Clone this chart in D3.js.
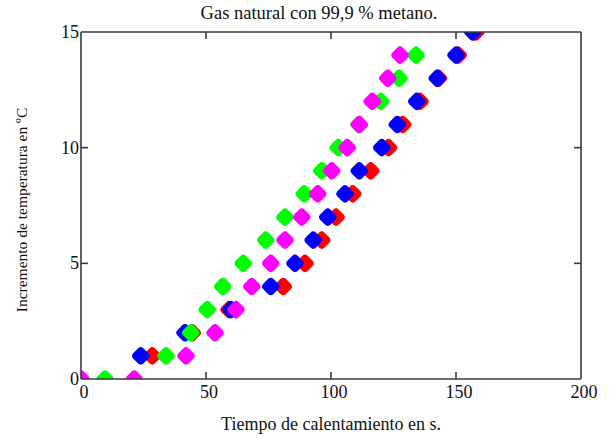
<!DOCTYPE html>
<html lang="es">
<head>
<meta charset="UTF-8">
<title>Gas natural con 99,9 % metano.</title>
<script src="https://d3js.org/d3.v7.min.js"></script>
<style>
  body { margin: 0; background: #fff; }
  text { font-family: "Liberation Serif", "Times New Roman", serif; fill: #111; }
  .frame line { stroke: #3a3a3a; stroke-width: 1.6px; }
</style>
</head>
<body>
<script>
// temperature steps (ºC) and time (s)
var tempRed = [1, 2, 3, 4, 5, 6, 7, 8, 9, 10, 11, 12, 13, 14, 15];
var timeRed = [28.5, 44.5, 59.2, 80.9, 89.6, 96.3, 102, 108.7, 115.9, 123, 128.7, 135.6, 143, 150.9, 158];

var tempBlue = [1, 2, 3, 4, 5, 6, 7, 8, 9, 10, 11, 12, 13, 14, 15];
var timeBlue = [23.9, 41.6, 60, 75.9, 85.6, 92.9, 98.7, 105.6, 111.3, 120.3, 126.5, 134.3, 142.5, 150, 156.7];

var tempGreen = [0, 1, 2, 3, 4, 5, 6, 7, 8, 9, 10, 11, 12, 13, 14];
var timeGreen = [9.6, 34, 43.9, 50.5, 56.7, 64.9, 73.9, 81.6, 89.3, 96.3, 102.9, 111.2, 119.9, 127.2, 134];

var tempMagenta = [0, 0, 1, 2, 3, 4, 5, 6, 7, 8, 9, 10, 11, 12, 13, 14];
var timeMagenta = [0, 21.3, 42, 53.6, 62, 68.3, 75.9, 81.6, 88.3, 94.7, 100.3, 106.5, 111.3, 116.5, 122.7, 127.6];

var xTicks = [0, 50, 100, 150, 200];
var yTicks = [0, 5, 10, 15];

var series = [
  { color: "#ff0000", t: timeRed, y: tempRed },
  { color: "#0000ff", t: timeBlue, y: tempBlue },
  { color: "#00ff00", t: timeGreen, y: tempGreen },
  { color: "#ff00ff", t: timeMagenta, y: tempMagenta }
];

var W = 609, H = 438;
var pLeft = 81, pRight = 581, pTop = 32, pBottom = 379;

var x = d3.scaleLinear().domain([0, 200]).range([pLeft, pRight]);
var y = d3.scaleLinear().domain([0, 15]).range([pBottom, pTop]);

var svg = d3.select("body").append("svg")
  .attr("width", W)
  .attr("height", H);

svg.append("defs").append("clipPath")
  .attr("id", "plot")
  .append("rect")
  .attr("x", pLeft).attr("y", pTop)
  .attr("width", pRight - pLeft).attr("height", pBottom - pTop);

// points (rounded diamonds), drawn red, blue, green, magenta
var pts = svg.append("g").attr("clip-path", "url(#plot)");
var side = 14.5;
series.forEach(function (s) {
  var data = s.t.map(function (t, i) { return [t, s.y[i]]; });
  pts.append("g").selectAll("rect")
    .data(data)
    .enter()
    .append("rect")
    .attr("x", -side / 2).attr("y", -side / 2)
    .attr("width", side).attr("height", side)
    .attr("rx", 4).attr("ry", 4)
    .attr("fill", s.color)
    .attr("transform", function (d) {
      return "translate(" + x(d[0]) + "," + y(d[1]) + ") rotate(45)";
    });
});

// frame with inward ticks on all four sides
var frame = svg.append("g").attr("class", "frame");
frame.append("line").attr("x1", pLeft).attr("x2", pRight).attr("y1", pBottom).attr("y2", pBottom);
frame.append("line").attr("x1", pLeft).attr("x2", pRight).attr("y1", pTop).attr("y2", pTop);
frame.append("line").attr("x1", pLeft).attr("x2", pLeft).attr("y1", pTop).attr("y2", pBottom);
frame.append("line").attr("x1", pRight).attr("x2", pRight).attr("y1", pTop).attr("y2", pBottom);

var tk = 7;
xTicks.slice(1, -1).forEach(function (v) {
  frame.append("line").attr("x1", x(v)).attr("x2", x(v)).attr("y1", pBottom).attr("y2", pBottom - tk);
  frame.append("line").attr("x1", x(v)).attr("x2", x(v)).attr("y1", pTop).attr("y2", pTop + tk);
});
yTicks.slice(1, -1).forEach(function (v) {
  frame.append("line").attr("x1", pLeft).attr("x2", pLeft + tk).attr("y1", y(v)).attr("y2", y(v));
  frame.append("line").attr("x1", pRight).attr("x2", pRight - tk).attr("y1", y(v)).attr("y2", y(v));
});

// tick labels
svg.append("g").selectAll("text")
  .data(xTicks)
  .enter()
  .append("text")
  .attr("x", function (d) { return x(d) + 3; })
  .attr("y", 398)
  .attr("text-anchor", "middle")
  .style("font-size", "18px")
  .text(function (d) { return d; });

svg.append("g").selectAll("text")
  .data(yTicks)
  .enter()
  .append("text")
  .attr("x", pLeft - 2)
  .attr("y", function (d) { return y(d) + 6; })
  .attr("text-anchor", "end")
  .style("font-size", "18px")
  .text(function (d) { return d; });

// titles
svg.append("text")
  .attr("x", 319).attr("y", 19)
  .attr("text-anchor", "middle")
  .style("font-size", "18.5px")
  .text("Gas natural con 99,9 % metano.");

svg.append("text")
  .attr("x", 331).attr("y", 430)
  .attr("text-anchor", "middle")
  .style("font-size", "18px")
  .text("Tiempo de calentamiento en s.");

svg.append("text")
  .attr("transform", "translate(27,210) rotate(-90)")
  .attr("text-anchor", "middle")
  .style("font-size", "15.5px")
  .text("Incremento de temperatura en ºC");
</script>
</body>
</html>
